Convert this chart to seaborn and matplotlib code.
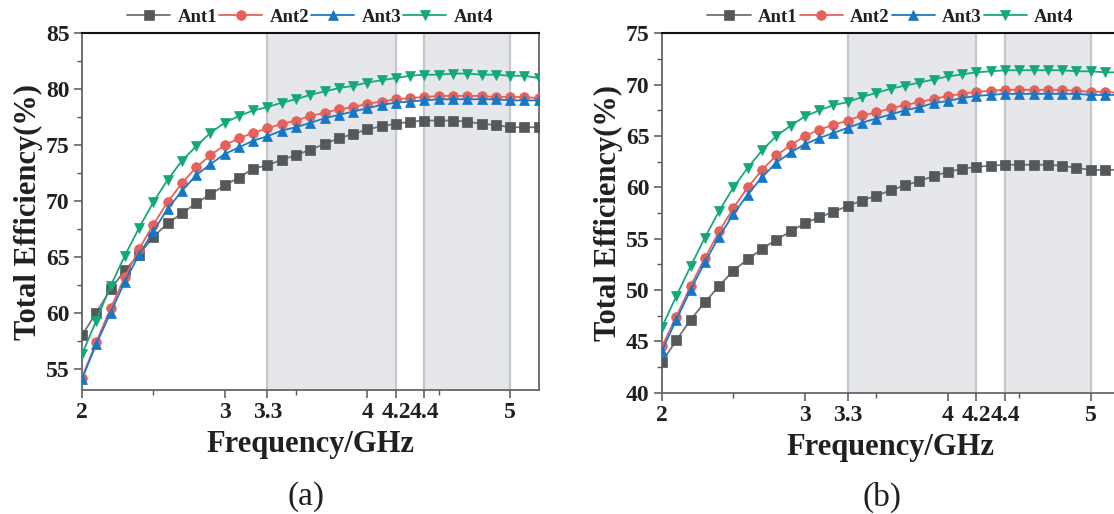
import numpy as np
import pandas as pd
import matplotlib
matplotlib.use("Agg")
import matplotlib.pyplot as plt
import seaborn as sns
from matplotlib.ticker import FixedLocator, FuncFormatter

# ---------------- data ----------------
freq = [2.0, 2.1, 2.2, 2.3, 2.4, 2.5, 2.6, 2.7, 2.8, 2.9, 3.0, 3.1, 3.2, 3.3, 3.4, 3.5,
        3.6, 3.7, 3.8, 3.9, 4.0, 4.1, 4.2, 4.3, 4.4, 4.5, 4.6, 4.7, 4.8, 4.9, 5.0, 5.1, 5.2]

a_ant1 = [58.0, 60.0, 62.1, 63.8, 65.2, 66.8, 68.0, 68.9, 69.8, 70.6, 71.4, 72.1, 72.9, 73.2,
          73.7, 74.1, 74.6, 75.1, 75.6, 76.0, 76.4, 76.7, 76.9, 77.1, 77.2, 77.2, 77.2, 77.1,
          76.9, 76.8, 76.6, 76.6, 76.6]
a_ant2 = [54.2, 57.4, 60.4, 63.2, 65.7, 67.9, 69.9, 71.6, 73.0, 74.1, 75.0, 75.6, 76.1, 76.5,
          76.9, 77.2, 77.6, 77.9, 78.2, 78.4, 78.7, 78.9, 79.1, 79.2, 79.3, 79.4, 79.4, 79.4,
          79.4, 79.3, 79.3, 79.3, 79.2]
a_ant3 = [54.1, 57.2, 60.0, 62.8, 65.2, 67.3, 69.3, 70.9, 72.3, 73.3, 74.2, 74.8, 75.4, 75.8,
          76.3, 76.6, 77.0, 77.4, 77.7, 78.0, 78.3, 78.6, 78.8, 78.9, 79.0, 79.1, 79.1, 79.1,
          79.1, 79.1, 79.0, 79.0, 79.0]
a_ant4 = [56.3, 59.3, 62.4, 65.1, 67.6, 69.9, 71.9, 73.6, 74.9, 76.1, 77.0, 77.6, 78.1, 78.4,
          78.8, 79.1, 79.5, 79.8, 80.1, 80.3, 80.6, 80.8, 81.0, 81.2, 81.3, 81.3, 81.4, 81.4,
          81.3, 81.3, 81.2, 81.2, 81.0]

b_ant1 = [43.0, 45.1, 47.1, 48.8, 50.4, 51.9, 53.0, 54.0, 54.9, 55.7, 56.5, 57.1, 57.6, 58.2,
          58.7, 59.2, 59.7, 60.2, 60.6, 61.1, 61.5, 61.8, 62.0, 62.1, 62.2, 62.2, 62.2, 62.2,
          62.1, 61.9, 61.7, 61.7, 61.7]
b_ant2 = [44.5, 47.4, 50.4, 53.1, 55.7, 58.0, 60.0, 61.7, 63.1, 64.1, 65.0, 65.6, 66.1, 66.5,
          67.0, 67.3, 67.7, 68.0, 68.3, 68.6, 68.9, 69.1, 69.3, 69.4, 69.5, 69.5, 69.5, 69.5,
          69.5, 69.4, 69.3, 69.3, 69.2]
b_ant3 = [44.1, 47.1, 50.0, 52.7, 55.2, 57.4, 59.3, 61.0, 62.4, 63.4, 64.2, 64.8, 65.3, 65.8,
          66.3, 66.7, 67.1, 67.5, 67.8, 68.2, 68.4, 68.7, 68.9, 69.0, 69.1, 69.1, 69.1, 69.1,
          69.1, 69.1, 69.0, 69.0, 69.0]
b_ant4 = [46.4, 49.4, 52.3, 55.1, 57.7, 60.0, 61.9, 63.6, 65.0, 66.0, 66.9, 67.5, 68.0, 68.3,
          68.8, 69.2, 69.6, 69.9, 70.2, 70.5, 70.8, 71.0, 71.2, 71.3, 71.4, 71.4, 71.4, 71.4,
          71.4, 71.3, 71.3, 71.2, 71.2]

series_names = ["Ant1", "Ant2", "Ant3", "Ant4"]
x_ticks = [2, 3, 3.3, 4, 4.2, 4.4, 5]
x_minor = [2.5, 3.5, 4.5]
bands = [(3.3, 4.2), (4.4, 5.0)]
panel_labels = ["(a)", "(b)"]

line_colors = ["#707274", "#e5625b", "#1b7bc6", "#17a97d"]
marker_colors = ["#55585b", "#e5625b", "#1677c4", "#13a779"]
markers = ["s", "o", "^", "v"]

sns.set_theme(style="ticks")
plt.rcParams["font.family"] = ["Liberation Serif", "DejaVu Serif"]
plt.rcParams["mathtext.default"] = "regular"
txt = "#231f20"

fig = plt.figure(figsize=(11.14, 5.14), dpi=100)
W, H = 1114, 514

def px_axes(l, t, r, b):
    return [l / W, 1 - b / H, (r - l) / W, (b - t) / H]

panels = [
    dict(pos=px_axes(82, 33.3, 538.6, 390), data=[a_ant1, a_ant2, a_ant3, a_ant4],
         ylim=(53.1, 85), yticks=[55, 60, 65, 70, 75, 80, 85],
         yminor=[57.5, 62.5, 67.5, 72.5, 77.5, 82.5], lab_x=306),
    dict(pos=px_axes(662, 33.3, 1119.3, 392.7), data=[b_ant1, b_ant2, b_ant3, b_ant4],
         ylim=(40, 75), yticks=[40, 45, 50, 55, 60, 65, 70, 75],
         yminor=[42.5, 47.5, 52.5, 57.5, 62.5, 67.5, 72.5], lab_x=882),
]

def style_line(ln, idx):
    ln.set_color(line_colors[idx])
    ln.set_markerfacecolor(marker_colors[idx])
    ln.set_markeredgecolor(marker_colors[idx])
    ln.set_markeredgewidth(0.5)

for i, p in enumerate(panels):
    ax = fig.add_axes(p["pos"])
    frames = []
    for name, vals in zip(series_names, p["data"]):
        frames.append(pd.DataFrame({"Frequency": freq, "Efficiency": vals, "Antenna": name}))
    df = pd.concat(frames, ignore_index=True)

    for lo, hi in bands:
        ax.axvspan(lo, hi, facecolor="#e6e7ea", edgecolor="none", zorder=0)
        ax.axvline(lo, color="#c4c8ce", lw=1.6, zorder=0.5)
        ax.axvline(hi, color="#c4c8ce", lw=1.6, zorder=0.5)

    n_before = len(ax.lines)
    sns.lineplot(data=df, x="Frequency", y="Efficiency", hue="Antenna", style="Antenna",
                 palette=line_colors, markers=markers, dashes=False, markersize=7,
                 linewidth=1.3, ax=ax, zorder=3)
    data_lines = ax.lines[n_before:n_before + 4]
    for k, ln in enumerate(data_lines):
        style_line(ln, k)

    ax.set_xlim(2, 5.2)
    ax.set_ylim(*p["ylim"])
    ax.xaxis.set_major_locator(FixedLocator(x_ticks))
    ax.xaxis.set_minor_locator(FixedLocator(x_minor))
    ax.xaxis.set_major_formatter(FuncFormatter(lambda v, pos: f"{v:g}"))
    ax.yaxis.set_major_locator(FixedLocator(p["yticks"]))
    ax.yaxis.set_minor_locator(FixedLocator(p["yminor"]))

    ax.tick_params(axis="both", which="major", direction="out", length=6, width=1.1,
                   color="#555555", labelsize=17, labelcolor=txt, pad=3)
    ax.tick_params(axis="both", which="minor", direction="out", length=3.5, width=1.0,
                   color="#555555")
    for lbl in ax.get_xticklabels() + ax.get_yticklabels():
        lbl.set_fontweight("bold")

    for side in ["left", "bottom", "right"]:
        ax.spines[side].set_color("#666666")
        ax.spines[side].set_linewidth(1.3)
    ax.spines["top"].set_color("#111111")
    ax.spines["top"].set_linewidth(1.5)

    ax.set_xlabel("Frequency/GHz", fontsize=22, fontweight="bold", color=txt, labelpad=5)
    ax.set_ylabel("Total Efficiency(%)", fontsize=22, fontweight="bold", color=txt, labelpad=2)

    handles, labels = ax.get_legend_handles_labels()
    ax.get_legend().remove()
    for k, h in enumerate(handles):
        style_line(h, k)
    leg = ax.legend(handles, labels, loc="lower center", bbox_to_anchor=(0.5, 0.995),
                    ncol=4, frameon=False, handlelength=2.3, handletextpad=0.4,
                    columnspacing=0.1, borderaxespad=0.1,
                    prop={"family": "Liberation Serif", "weight": "bold", "size": 13.5})
    for t in leg.get_texts():
        t.set_color(txt)

    fig.text(p["lab_x"] / W, 1 - 497 / H, panel_labels[i], ha="center", va="center",
             fontsize=24, color=txt)

fig.savefig("out.png", dpi=100)
